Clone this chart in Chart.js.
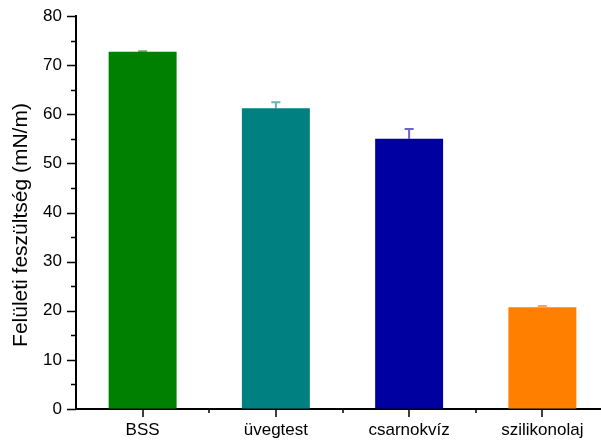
<!DOCTYPE html>
<html>
<head>
<meta charset="utf-8">
<script src="https://cdn.jsdelivr.net/npm/chart.js@4/dist/chart.umd.min.js"></script>
<style>
  html, body { margin: 0; padding: 0; background: #fff; overflow: hidden; }
  #wrap { width: 601px; height: 441px; overflow: hidden; }
</style>
</head>
<body>
<div id="wrap"><canvas id="c" width="610" height="441"></canvas></div>
<script>
// Surface tension of the test liquids (mean and standard deviation, mN/m)
const categories = ['BSS', 'üvegtest', 'csarnokvíz', 'szilikonolaj'];
const tensionMeans = [72.7, 61.2, 55.0, 20.7];
const tensionErrors = [0.1, 1.25, 2.0, 0.25];
const barColors = ['#008000', '#008080', '#0000A0', '#FF8000'];
const errorColors = ['rgba(0,128,0,0.6)', 'rgba(0,128,128,0.6)', 'rgba(0,0,160,0.6)', 'rgba(255,128,0,0.7)'];
const yTitle = 'Felületi feszültség (mN/m)';
const yMin = 0, yMax = 80, yStep = 10;

const FONT = 'Arial, "Liberation Sans", sans-serif';

// Upper error bars with a short cap
const errorBars = {
  id: 'errorBars',
  afterDatasetsDraw(chart) {
    const ctx = chart.ctx;
    const y = chart.scales.y;
    const meta = chart.getDatasetMeta(0);
    ctx.save();
    meta.data.forEach((bar, i) => {
      const top = y.getPixelForValue(tensionMeans[i] + tensionErrors[i]);
      const base = y.getPixelForValue(tensionMeans[i]);
      ctx.strokeStyle = errorColors[i];
      ctx.lineWidth = 2;
      ctx.beginPath();
      ctx.moveTo(bar.x, base);
      ctx.lineTo(bar.x, top);
      ctx.moveTo(bar.x - 4.5, top);
      ctx.lineTo(bar.x + 4.5, top);
      ctx.stroke();
    });
    ctx.restore();
  }
};

// Outward major and minor tick marks on both axes, plus the y-axis title
const axisDecor = {
  id: 'axisDecor',
  afterDraw(chart) {
    const ctx = chart.ctx;
    const x = chart.scales.x;
    const y = chart.scales.y;
    const left = chart.chartArea.left;
    const bottom = chart.chartArea.bottom;
    ctx.save();
    ctx.strokeStyle = '#000';
    ctx.lineWidth = 1.5;
    ctx.beginPath();
    for (let v = yMin; v <= yMax; v += yStep / 2) {
      const py = Math.round(y.getPixelForValue(v)) + 0.5;
      const len = (v % yStep === 0) ? 9 : 5;
      ctx.moveTo(left - len, py);
      ctx.lineTo(left, py);
    }
    for (let i = 0; i < categories.length; i++) {
      const px = Math.round(x.getPixelForValue(i));
      ctx.moveTo(px, bottom);
      ctx.lineTo(px, bottom + 8);
      const mx = Math.round(x.getPixelForValue(i + 0.5));
      ctx.moveTo(mx, bottom);
      ctx.lineTo(mx, bottom + 4);
    }
    ctx.stroke();

    ctx.translate(27, 225);
    ctx.rotate(-Math.PI / 2);
    ctx.fillStyle = '#000';
    ctx.font = '21px ' + FONT;
    ctx.textAlign = 'center';
    ctx.textBaseline = 'alphabetic';
    ctx.fillText(yTitle, 0, 0);
    ctx.restore();
  }
};

new Chart(document.getElementById('c'), {
  type: 'bar',
  data: {
    labels: categories,
    datasets: [{
      data: tensionMeans,
      backgroundColor: barColors,
      borderWidth: 0,
      barPercentage: 0.51,
      categoryPercentage: 1.0
    }]
  },
  options: {
    responsive: false,
    animation: false,
    devicePixelRatio: 1,
    layout: { padding: { top: 16, right: 1, left: 0, bottom: 0 } },
    plugins: { legend: { display: false }, tooltip: { enabled: false } },
    scales: {
      x: {
        offset: true,
        grid: { display: true, drawOnChartArea: false, drawTicks: true, tickLength: 8, tickColor: 'rgba(0,0,0,0)' },
        border: { display: true, color: '#000', width: 2 },
        ticks: { color: '#000', font: { family: FONT, size: 17 }, padding: 3, maxRotation: 0, autoSkip: false },
        afterFit(scale) { scale.height = 32; }
      },
      y: {
        min: yMin,
        max: yMax,
        grid: { display: true, drawOnChartArea: false, drawTicks: true, tickLength: 9, tickColor: 'rgba(0,0,0,0)' },
        border: { display: true, color: '#000', width: 2 },
        ticks: { stepSize: yStep, color: '#000', font: { family: FONT, size: 17 }, padding: 5 },
        afterFit(scale) { scale.width = 76; }
      }
    }
  },
  plugins: [errorBars, axisDecor]
});
</script>
</body>
</html>
